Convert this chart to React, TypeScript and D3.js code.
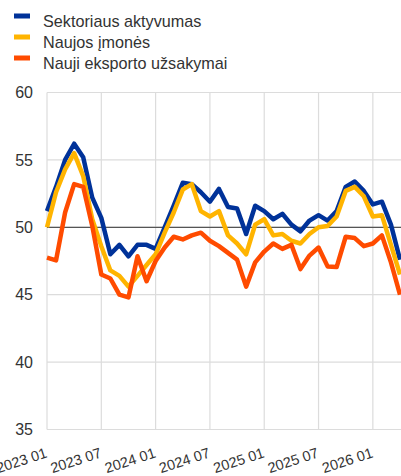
import * as d3 from "d3";
import { useEffect, useRef } from "react";

// mėnesiai: 2023 01 – 2026 04
const months = Array.from({ length: 40 }, (_, i) => {
  const y = 2023 + Math.floor(i / 12);
  const m = (i % 12) + 1;
  return `${y} ${String(m).padStart(2, "0")}`;
});

const activity = [
  51.2, 53.0, 55.0, 56.2, 55.2, 52.2, 50.7, 48.0, 48.7, 47.85,
  48.7, 48.7, 48.4, 50.0, 51.6, 53.3, 53.2, 52.6, 51.9, 52.85,
  51.5, 51.4, 49.5, 51.6, 51.2, 50.6, 51.0, 50.2, 49.7, 50.5,
  50.9, 50.5, 51.2, 53.0, 53.4, 52.7, 51.7, 51.9, 50.2, 47.6,
];

const newOrders = [
  50.0, 52.6, 54.3, 55.5, 53.8, 50.6, 48.6, 46.8, 46.4, 45.6,
  46.4, 47.2, 48.0, 49.6, 51.1, 52.8, 53.2, 51.2, 50.8, 51.2,
  49.4, 48.8, 48.0, 50.2, 50.6, 49.4, 49.5, 49.0, 48.8, 49.5,
  50.0, 50.1, 50.8, 52.7, 53.0, 52.3, 50.8, 50.9, 48.7, 46.5,
];

const exportOrders = [
  47.75, 47.55, 51.1, 53.2, 53.0, 50.1, 46.5, 46.2, 45.0, 44.8,
  47.85, 46.0, 47.5, 48.5, 49.3, 49.1, 49.4, 49.6, 49.0, 48.6,
  48.1, 47.6, 45.6, 47.4, 48.2, 48.8, 48.4, 48.7, 46.9, 47.9,
  48.5, 47.1, 47.05, 49.3, 49.2, 48.6, 48.8, 49.4, 47.4, 45.0,
];

const seriesNames = ["Sektoriaus aktyvumas", "Naujos įmonės", "Nauji eksporto užsakymai"];
const seriesColors = ["#003299", "#ffb400", "#ff4b00"];
const yTicks = [35, 40, 45, 50, 55, 60];

const W = 401;
const H = 476;

export default function App() {
  const ref = useRef<SVGSVGElement>(null);

  useEffect(() => {
    if (!ref.current) return;
    const svg = d3.select(ref.current);
    svg.selectAll("*").remove();

    const font = "'Liberation Sans', Arial, sans-serif";
    const x = d3.scaleLinear().domain([0, months.length - 1]).range([47, 400]);
    const y = d3.scaleLinear().domain([35, 60]).range([429.5, 92.5]);

    const grid = svg.append("g");
    // horizontalios linijos
    grid
      .selectAll("line.h")
      .data(yTicks)
      .join("line")
      .attr("x1", x(0))
      .attr("x2", W)
      .attr("y1", (d) => y(d))
      .attr("y2", (d) => y(d))
      .attr("stroke", "#dcdcdc")
      .attr("stroke-width", 1.2);

    // vertikalios linijos kas 6 mėn.
    const xTickIdx = months.map((_, i) => i).filter((i) => i % 6 === 0);
    grid
      .selectAll("line.v")
      .data(xTickIdx)
      .join("line")
      .attr("x1", (d) => x(d))
      .attr("x2", (d) => x(d))
      .attr("y1", y(60))
      .attr("y2", y(35))
      .attr("stroke", "#dcdcdc")
      .attr("stroke-width", 1.2);

    // 50 linija
    svg
      .append("line")
      .attr("x1", x(0))
      .attr("x2", W)
      .attr("y1", y(50))
      .attr("y2", y(50))
      .attr("stroke", "#555")
      .attr("stroke-width", 1.2);

    // Y ašies žymės
    svg
      .append("g")
      .selectAll("text")
      .data(yTicks)
      .join("text")
      .attr("x", 33)
      .attr("y", (d) => y(d))
      .attr("dy", "0.36em")
      .attr("text-anchor", "end")
      .attr("font-family", font)
      .attr("font-size", 16)
      .attr("fill", "#333")
      .text((d) => d);

    // X ašies žymės
    svg
      .append("g")
      .selectAll("text")
      .data(xTickIdx)
      .join("text")
      .attr("transform", (d) => `translate(${x(d) + 1},457) rotate(-18)`)
      .attr("text-anchor", "end")
      .attr("font-family", font)
      .attr("font-size", 14.5)
      .attr("fill", "#333")
      .text((d) => months[d]);

    // linijos
    const line = d3
      .line<number>()
      .x((_, i) => x(i))
      .y((d) => y(d));

    [activity, newOrders, exportOrders].forEach((s, k) => {
      svg
        .append("path")
        .datum(s)
        .attr("d", line)
        .attr("fill", "none")
        .attr("stroke", seriesColors[k])
        .attr("stroke-width", 4.5)
        .attr("stroke-linejoin", "round");
    });

    // legenda
    const legend = svg
      .selectAll("g.legend")
      .data(seriesNames)
      .join("g")
      .attr("transform", (_, i) => `translate(0,${16 + i * 21})`);
    legend
      .append("rect")
      .attr("x", 14)
      .attr("y", -2.5)
      .attr("width", 16)
      .attr("height", 5)
      .attr("fill", (_, i) => seriesColors[i]);
    legend
      .append("text")
      .attr("x", 43)
      .attr("y", 11)
      .attr("font-family", font)
      .attr("font-size", 16.2)
      .attr("fill", "#333")
      .text((d) => d);
  }, []);

  return (
    <svg
      ref={ref}
      width={W}
      height={H}
      style={{ position: "absolute", left: 0, top: 0, display: "block", background: "#fff" }}
    />
  );
}
